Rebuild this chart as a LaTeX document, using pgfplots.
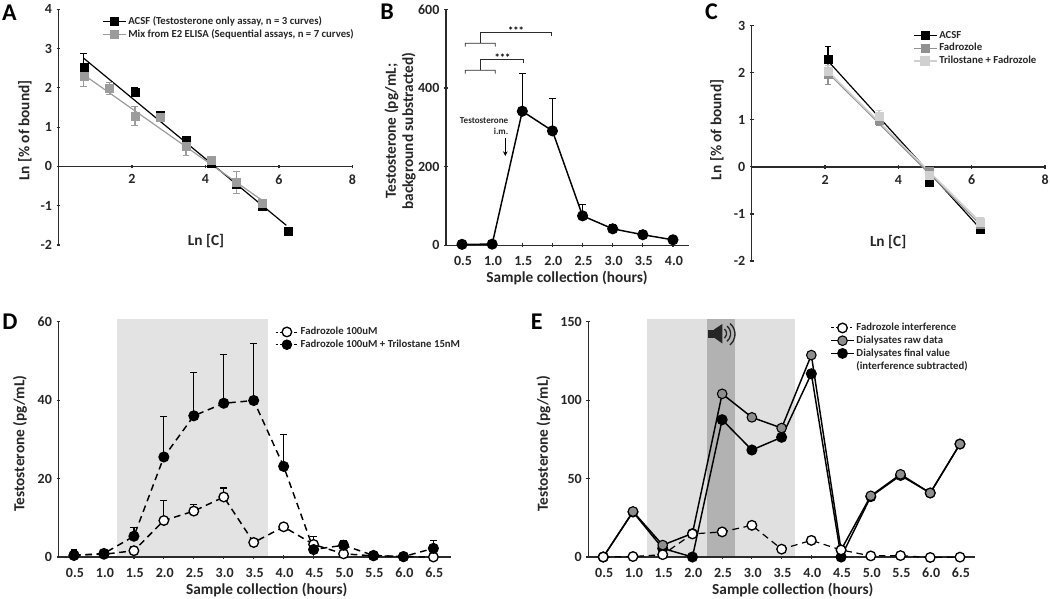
\documentclass[border=0pt]{standalone}
\usepackage{fontspec}
\setmainfont{Carlito}
\usepackage{pgfplots}
\pgfplotsset{compat=1.18}
\usetikzlibrary{arrows.meta}
\definecolor{axc}{HTML}{2B2B2B}
\definecolor{mixg}{HTML}{9C9C9C}
\definecolor{fadg}{HTML}{919191}
\definecolor{trig}{HTML}{D0D0D0}
\definecolor{rawg}{HTML}{8E8E8E}
\newcommand{\labfont}{\bfseries\fontsize{11.5}{13}\selectfont}
\pgfplotsset{
  panel/.style={
    scale only axis, clip=false,
    tick style={axc,line width=0.9pt}, major tick length=2.8pt, tick align=outside,
    axis y line=left,
    tick label style={font=\bfseries\fontsize{10.5}{12}\selectfont,text=black!85},
    xticklabel style={yshift=-1.2pt},
    /pgf/number format/assume math mode=true,
    legend cell align=left,
  },
  plain/.style={axis line style={axc,line width=1.1pt},x axis line style={-},y axis line style={-}},
  xlab/.style 2 args={xlabel style={at={(axis description cs:#1,#2)},anchor=center,font=\labfont,text=black!85}},
  ylab/.style 2 args={ylabel style={at={(axis description cs:#1,#2)},anchor=center,align=center,font=\labfont,text=black!85}},
  leg/.style 2 args={legend style={at={(axis description cs:#1,#2)},anchor=north west,draw=none,fill=none,
     inner sep=0pt,outer sep=0pt,row sep=-0.6pt,font=\bfseries\fontsize{8.05}{10}\selectfont,text=black!85,
     nodes={inner sep=1.5pt}}},
  hours/.style={xtick distance=0.5, axis x line=bottom,
     xticklabel style={yshift=-2.4pt,xshift=0.7pt,/pgf/number format/.cd,fixed,fixed zerofill,precision=1,assume math mode=true}},
  errs/.style={error bars/y dir=#1,error bars/y explicit,error bars/error mark=-,
     error bars/error bar style={line width=0.9pt,solid},
     error bars/error mark options={rotate=90,mark size=2.6pt,line width=0.9pt}},
  sq/.style={mark=square*,mark size=3pt,mark options={solid}},
  dot/.style={mark=*,mark size=3.6pt,mark options={solid}},
  finedash/.style={line width=0.7pt,dash pattern=on 2pt off 1.5pt},
}
\begin{document}
\begin{tikzpicture}[x=0.75pt,y=-0.75pt]
\useasboundingbox (0,0) rectangle (1050,599);

% panel letters
\foreach \l/\xx/\yy in {A/9.5/12.7,B/387/12,C/711.5/12,D/10/321.7,E/536.7/321.7}
  \node[font=\bfseries\fontsize{18}{19}\selectfont,text=black] at (\xx,\yy) {\l};

% A
\begin{axis}[panel, at={(43.875pt,-183.75pt)}, anchor=south west, width=220.5pt, height=176.8pt,
  axis x line=middle, plain, xmin=0, xmax=8, ymin=-2, ymax=4, xtick={2,4,6,8}, ytick={-2,-1,0,1,2,3,4},
  xlabel={Ln [C]}, ylabel={Ln [\% of bound]}, xlab={0.502}{0.017}, ylab={-0.114}{0.485},
  leg={0.149}{0.977}]
\addplot[black,line width=0.9pt,forget plot] coordinates {(0.69,2.75) (6.2,-1.5)};
\addplot[mixg,line width=0.9pt,forget plot] coordinates {(0.69,2.33) (5.55,-0.87)};
\addplot[black,only marks,sq,errs=plus,forget plot] coordinates {
 (0.69,2.53) +- (0,0.34) (1.39,1.98) +- (0,0.1) (2.08,1.9) +- (0,0.1) (2.77,1.3) +- (0,0.05)
 (3.47,0.66) +- (0,0.05) (4.16,0.09) +- (0,0.03) (4.85,-0.46) +- (0,0.05) (5.55,-1.02) +- (0,0.03) (6.24,-1.65) +- (0,0)};
\addplot[mixg,only marks,sq,errs=both,forget plot] coordinates {
 (0.69,2.3) +- (0,0.26) (1.39,1.98) +- (0,0.15) (2.08,1.28) +- (0,0.24) (2.77,1.24) +- (0,0.1)
 (3.47,0.52) +- (0,0.24) (4.16,0.15) +- (0,0.08) (4.85,-0.4) +- (0,0.28) (5.55,-0.93) +- (0,0.07)};
\addlegendimage{black,line width=0.9pt,sq}
\addlegendentry{ACSF (Testosterone only assay, n = 3 curves)}
\addlegendimage{mixg,line width=0.9pt,sq}
\addlegendentry{Mix from E2 ELISA (Sequential assays, n = 7 curves)}
\end{axis}

% B
\begin{axis}[panel, hours, plain, at={(334.5pt,-184pt)}, anchor=south west, width=182.25pt, height=177pt,
  xmin=0.234, xmax=4.266, ymin=0, ymax=600, ytick={0,200,400,600},
  xlabel={Sample collection (hours)}, ylabel={Testosterone (pg/mL;\\background substracted)},
  xlab={0.498}{-0.139}, ylab={-0.189}{0.484}]
\addplot[black,line width=1.1pt,dot,errs=plus] coordinates {
 (0.5,2.5) +- (0,0) (1.0,3) +- (0,0) (1.5,341) +- (0,95) (2.0,291) +- (0,83)
 (2.5,75) +- (0,28) (3.0,42) +- (0,10) (3.5,27) +- (0,10) (4.0,14) +- (0,10)};
\end{axis}
\begin{scope}[axc,line width=0.55pt]
 \draw (465.3,46.7) -- ++(0,-3.4) -- (495.3,43.3) -- ++(0,3.4);
 \draw (480.7,43.3) -- (480.7,32.3) -- (551.7,32.3) -- ++(0,3.4);
 \draw (465.3,73.7) -- ++(0,-3.4) -- (495.3,70.3) -- ++(0,3.4);
 \draw (480.7,70.3) -- (480.7,59.3) -- (523.7,59.3) -- ++(0,3.4);
\end{scope}
\node[font=\bfseries\fontsize{8}{9}\selectfont] at (516,31) {***};
\node[font=\bfseries\fontsize{8}{9}\selectfont] at (502.5,58) {***};
\node[font=\bfseries\fontsize{6.8}{8.6}\selectfont,align=right,anchor=east,inner sep=0pt,text=black!85] at (508.5,126) {Testosterone\\i.m.};
\draw[-{Stealth[length=3.5pt,width=3.5pt]},black,line width=0.8pt] (505.3,138) -- (505.3,156);

% C
\begin{axis}[panel, at={(563.8pt,-195.75pt)}, anchor=south west, width=220pt, height=176.5pt,
  axis x line=middle, plain, xmin=0, xmax=8, ymin=-2, ymax=3, xtick={2,4,6,8}, ytick={-2,-1,0,1,2,3},
  xlabel={Ln [C]}, ylabel={Ln [\% of bound]}, xlab={0.465}{0.082}, ylab={-0.119}{0.557},
  leg={0.55}{0.985}]
\addplot[black,line width=0.9pt,forget plot] coordinates {(2.08,2.25) (6.24,-1.32)};
\addplot[fadg,line width=0.9pt,forget plot] coordinates {(2.08,2.0) (6.24,-1.23)};
\addplot[trig,line width=1.1pt,forget plot] coordinates {(2.08,2.03) (6.24,-1.18)};
\addplot[black,only marks,sq,errs=plus,forget plot] coordinates {
 (2.08,2.29) +- (0,0.26) (3.47,1.05) +- (0,0.05) (4.85,-0.33) +- (0,0.03) (6.24,-1.33) +- (0,0.02)};
\addplot[fadg,only marks,sq,errs=both,forget plot] coordinates {
 (2.08,1.97) +- (0,0.22) (3.47,0.98) +- (0,0.1) (4.85,-0.09) +- (0,0.05) (6.24,-1.22) +- (0,0.05)};
\addplot[trig,only marks,sq,errs=both,forget plot] coordinates {
 (2.08,2.04) +- (0,0.12) (3.47,1.08) +- (0,0.12) (4.85,-0.18) +- (0,0.1) (6.24,-1.17) +- (0,0.1)};
\addlegendimage{black,line width=0.9pt,sq}
\addlegendentry{ACSF}
\addlegendimage{fadg,line width=0.9pt,sq}
\addlegendentry{Fadrozole}
\addlegendimage{trig,line width=1.1pt,sq}
\addlegendentry{Trilostane + Fadrozole}
\end{axis}

% D
\begin{axis}[panel, hours, plain, at={(43.875pt,-417.75pt)}, anchor=south west, width=294.2pt, height=176.5pt,
  xmin=0.241, xmax=6.79, ymin=0, ymax=60, ytick={0,20,40,60},
  xlabel={Sample collection (hours)}, ylabel={Testosterone (pg/mL)},
  xlab={0.531}{-0.14}, ylab={-0.098}{0.483}, leg={0.552}{0.985}]
\fill[black!11] (axis cs:1.223,0.3) rectangle (axis cs:3.734,60.6);
\addplot[black,line width=1.1pt,dash pattern=on 5pt off 3.5pt,dot,mark options={fill=white,draw=black,line width=1pt,solid},errs=plus,forget plot] coordinates {
 (0.5,0.5) +- (0,0) (1.0,0.7) +- (0,0) (1.5,1.6) +- (0,1) (2.0,9.3) +- (0,5.1) (2.5,11.7) +- (0,1.6)
 (3.0,15.3) +- (0,2.3) (3.5,3.7) +- (0,0.4) (4.0,7.7) +- (0,0.4) (4.5,3.2) +- (0,2.1) (5.0,0.8) +- (0,0.3)
 (5.5,0.3) +- (0,0.3) (6.0,0.1) +- (0,0.1) (6.5,0) +- (0,0)};
\addplot[black,line width=1.1pt,dash pattern=on 5pt off 3.5pt,dot,errs=plus,forget plot] coordinates {
 (0.5,0.4) +- (0,1.4) (1.0,0.9) +- (0,0.7) (1.5,5.3) +- (0,2.3) (2.0,25.5) +- (0,10.4) (2.5,36) +- (0,11)
 (3.0,39.2) +- (0,12.5) (3.5,39.9) +- (0,14.5) (4.0,23.1) +- (0,8.2) (4.5,1.9) +- (0,0.5) (5.0,3) +- (0,1.3)
 (5.5,0.4) +- (0,1) (6.0,0.1) +- (0,0.5) (6.5,2.2) +- (0,2)};
\addlegendimage{black,finedash,dot,mark options={fill=white,draw=black,line width=1pt,solid}}
\addlegendentry{Fadrozole 100uM}
\addlegendimage{black,finedash,dot}
\addlegendentry{Fadrozole 100uM + Trilostane 15nM}
\end{axis}

% E
\begin{axis}[panel, hours, plain, at={(441.2pt,-417.75pt)}, anchor=south west, width=290pt, height=176.5pt,
  xmin=0.248, xmax=6.752, ymin=0, ymax=150, ytick={0,50,100,150},
  xlabel={Sample collection (hours)}, ylabel={Testosterone (pg/mL)},
  xlab={0.529}{-0.14}, ylab={-0.116}{0.483}, leg={0.6265}{1.002}]
\fill[black!12] (axis cs:1.229,0.7) rectangle (axis cs:3.719,151.5);
\fill[black!30] (axis cs:2.24,0.7) rectangle (axis cs:2.716,151.5);
\addplot[black,line width=1.1pt,dot,forget plot] coordinates {
 (0.5,0) (1.0,28.7) (1.5,5.5) (2.0,0) (2.5,87.5) (3.0,68.2) (3.5,76.3) (4.0,116.8) (4.5,0)
 (5.0,38.5) (5.5,52) (6.0,40.8) (6.5,72)};
\addplot[black,line width=1.1pt,dot,mark options={fill=rawg,draw=black,line width=0.8pt},forget plot] coordinates {
 (0.5,0) (1.0,29) (1.5,7.6) (2.0,15) (2.5,104) (3.0,89) (3.5,82.2) (4.0,128.7) (4.5,4.5)
 (5.0,39) (5.5,52.7) (6.0,40.8) (6.5,72)};
\addplot[black,line width=0.9pt,dash pattern=on 5pt off 3.5pt,dot,mark options={fill=white,draw=black,line width=1pt,solid},forget plot] coordinates {
 (0.5,0) (1.0,0.3) (1.5,1.5) (2.0,14.7) (2.5,16) (3.0,20.2) (3.5,5) (4.0,10.6) (4.5,4.5)
 (5.0,0.7) (5.5,0.9) (6.0,-0.3) (6.5,-0.1)};
\addlegendimage{black,finedash,dot,mark options={fill=white,draw=black,line width=1pt,solid}}
\addlegendentry{Fadrozole interference}
\addlegendimage{black,line width=0.9pt,dot,mark options={fill=rawg,draw=black,line width=0.8pt}}
\addlegendentry{Dialysates raw data}
\addlegendimage{black,line width=0.9pt,dot}
\addlegendentry{Dialysates final value}
\addlegendimage{empty legend}
\addlegendentry{(interference subtracted)}
\end{axis}
% speaker
\fill[black!85] (708.3,329.5) rectangle (714,337.5);
\fill[black!85] (714,329.5) -- (722.3,324) -- (722.3,343.5) -- (714,337.5) -- cycle;
\draw[black!85,line width=1pt] (724.5,329) arc[start angle=-50,end angle=50,radius=6];
\draw[black!85,line width=1pt] (727,326) arc[start angle=-50,end angle=50,radius=10];
\draw[black!85,line width=1pt] (730,323.5) arc[start angle=-50,end angle=50,radius=14];
\end{tikzpicture}
\end{document}
